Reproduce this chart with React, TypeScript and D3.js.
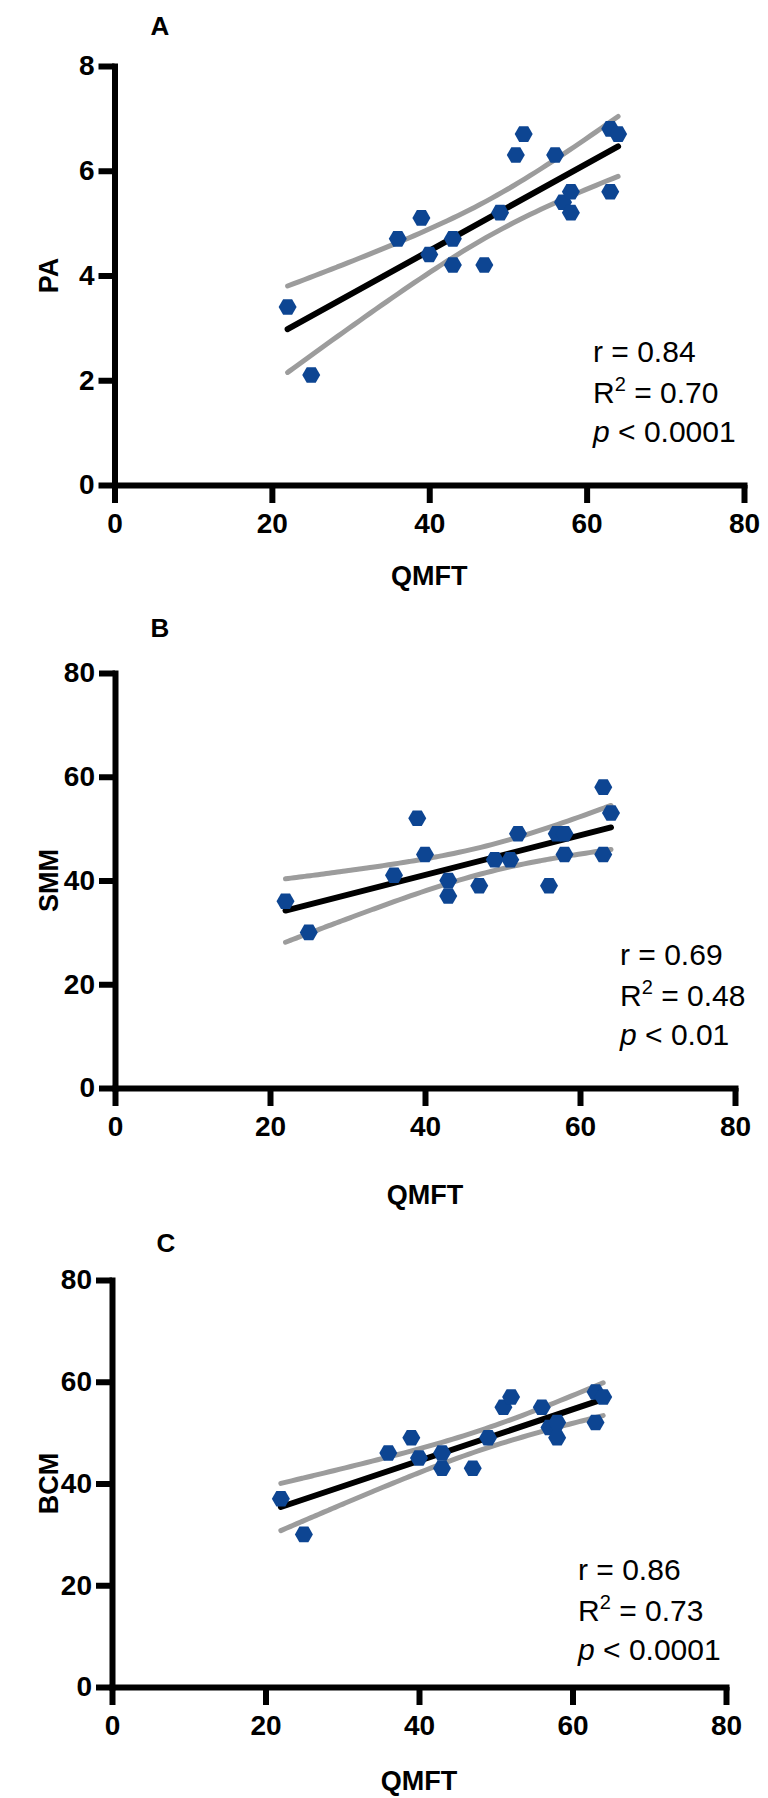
import React, { useEffect, useRef } from "react";
import * as d3 from "d3";

// QMFT score per subject (x), shared by all three panels
const qmft = [22, 25, 36, 39, 40, 43, 43, 47, 49, 51, 52, 56, 57, 58, 58, 63, 63, 64];
// outcomes, same subject order
const pa = [3.4, 2.1, 4.7, 5.1, 4.4, 4.7, 4.2, 4.2, 5.2, 6.3, 6.7, 6.3, 5.4, 5.6, 5.2, 6.8, 5.6, 6.7];
const smm = [36, 30, 41, 52, 45, 40, 37, 39, 44, 44, 49, 39, 49, 49, 45, 58, 45, 53];
const bcm = [37, 30, 46, 49, 45, 46, 43, 43, 49, 55, 57, 55, 51, 52, 49, 58, 52, 57];

const xTicks = [0, 20, 40, 60, 80];
const paTicks = [0, 2, 4, 6, 8];
const massTicks = [0, 20, 40, 60, 80];

const panelLetters = ["A", "B", "C"];
const yTitles = ["PA", "SMM", "BCM"];
const rValues = ["0.84", "0.69", "0.86"];
const r2Values = ["0.70", "0.48", "0.73"];
const pValues = ["0.0001", "0.01", "0.0001"];

const tCrit = 2.12; // t(0.975, df = 16)

interface Layout {
  left: number;
  right: number;
  top: number;
  bottom: number;
  letterX: number;
  letterY: number;
  statsX: number;
  statsY: number;
  titleY: number;
}

const layouts: Layout[] = [
  { left: 114.5, right: 744, top: 66, bottom: 485, letterX: 160, letterY: 35, statsX: 593, statsY: 362, titleY: 585 },
  { left: 115, right: 735, top: 673, bottom: 1088, letterX: 160, letterY: 637, statsX: 620, statsY: 965, titleY: 1204 },
  { left: 112, right: 726, top: 1280, bottom: 1687, letterX: 166, letterY: 1252, statsX: 578, statsY: 1580, titleY: 1790 },
];

const FONT = "'Liberation Sans', Arial, Helvetica, sans-serif";
const BLUE = "#0d4592";
const GREY = "#9c9c9c";

function fit(xs: number[], ys: number[]) {
  const n = xs.length;
  const mx = d3.mean(xs) ?? 0;
  const my = d3.mean(ys) ?? 0;
  const sxx = d3.sum(xs, (x) => (x - mx) ** 2);
  const sxy = d3.sum(xs.map((x, i) => (x - mx) * (ys[i] - my)));
  const slope = sxy / sxx;
  const icpt = my - slope * mx;
  const sse = d3.sum(xs.map((x, i) => (ys[i] - icpt - slope * x) ** 2));
  const s = Math.sqrt(sse / (n - 2));
  return {
    predict: (x: number) => icpt + slope * x,
    half: (x: number) => tCrit * s * Math.sqrt(1 / n + (x - mx) ** 2 / sxx),
  };
}

// flat-topped hexagon
function hexPath(r: number) {
  const pts = d3.range(6).map((i) => {
    const a = (Math.PI / 3) * i;
    return [r * Math.cos(a), r * Math.sin(a)] as [number, number];
  });
  return "M" + pts.map((p) => p.join(",")).join("L") + "Z";
}

const App: React.FC = () => {
  const svgRef = useRef<SVGSVGElement>(null);

  useEffect(() => {
    const svg = d3.select(svgRef.current);
    svg.selectAll("*").remove();

    const series = [pa, smm, bcm];
    const yTickSets = [paTicks, massTicks, massTicks];

    series.forEach((ys, k) => {
      const L = layouts[k];
      const ticks = yTickSets[k];
      const g = svg.append("g");

      const x = d3.scaleLinear().domain([0, 80]).range([L.left, L.right]);
      const y = d3
        .scaleLinear()
        .domain([0, d3.max(ticks) ?? 0])
        .range([L.bottom, L.top]);

      // regression + 95% CI
      const model = fit(qmft, ys);
      const [x0, x1] = d3.extent(qmft) as [number, number];
      const grid = d3.range(61).map((i) => x0 + ((x1 - x0) * i) / 60);
      const line = d3
        .line<number>()
        .x((d) => x(d))
        .curve(d3.curveMonotoneX);

      g.append("path")
        .attr("d", line.y((d) => y(model.predict(d) + model.half(d)))(grid))
        .attr("fill", "none")
        .attr("stroke", GREY)
        .attr("stroke-width", 5)
        .attr("stroke-linecap", "round");
      g.append("path")
        .attr("d", line.y((d) => y(model.predict(d) - model.half(d)))(grid))
        .attr("fill", "none")
        .attr("stroke", GREY)
        .attr("stroke-width", 5)
        .attr("stroke-linecap", "round");
      g.append("path")
        .attr("d", line.y((d) => y(model.predict(d)))([x0, x1]))
        .attr("fill", "none")
        .attr("stroke", "#000")
        .attr("stroke-width", 6)
        .attr("stroke-linecap", "round");

      // points
      const hex = hexPath(9);
      g.selectAll(".pt")
        .data(qmft.map((q, i) => [q, ys[i]]))
        .join("path")
        .attr("class", "pt")
        .attr("d", hex)
        .attr("transform", (d) => `translate(${x(d[0])},${y(d[1])})`)
        .attr("fill", BLUE);

      // axes
      const xAxis = d3
        .axisBottom(x)
        .tickValues(xTicks)
        .tickSize(18)
        .tickSizeOuter(0)
        .tickPadding(10)
        .tickFormat(d3.format("d"));
      const yAxis = d3
        .axisLeft(y)
        .tickValues(ticks)
        .tickSize(16)
        .tickSizeOuter(0)
        .tickPadding(4)
        .tickFormat(d3.format("d"));

      const gx = g
        .append("g")
        .attr("transform", `translate(0,${L.bottom})`)
        .call(xAxis);
      const gy = g
        .append("g")
        .attr("transform", `translate(${L.left},0)`)
        .call(yAxis);

      [gx, gy].forEach((ax) => {
        ax.select(".domain")
          .attr("stroke", "#000")
          .attr("stroke-width", 6)
          .attr("stroke-linecap", "square");
        ax.selectAll(".tick line").attr("stroke", "#000").attr("stroke-width", 6);
        ax.selectAll(".tick text")
          .attr("fill", "#000")
          .attr("font-family", FONT)
          .attr("font-weight", "bold")
          .attr("font-size", 28);
      });

      // titles
      g.append("text")
        .attr("x", (L.left + L.right) / 2)
        .attr("y", L.titleY)
        .attr("text-anchor", "middle")
        .attr("font-family", FONT)
        .attr("font-weight", "bold")
        .attr("font-size", 27)
        .text("QMFT");

      g.append("text")
        .attr("transform", `translate(58,${(L.top + L.bottom) / 2}) rotate(-90)`)
        .attr("text-anchor", "middle")
        .attr("font-family", FONT)
        .attr("font-weight", "bold")
        .attr("font-size", 27)
        .text(yTitles[k]);

      g.append("text")
        .attr("x", L.letterX)
        .attr("y", L.letterY)
        .attr("text-anchor", "middle")
        .attr("font-family", FONT)
        .attr("font-weight", "bold")
        .attr("font-size", 26)
        .text(panelLetters[k]);

      // stats
      const st = g
        .append("g")
        .attr("font-family", FONT)
        .attr("font-size", 30)
        .attr("fill", "#000");
      st.append("text")
        .attr("x", L.statsX)
        .attr("y", L.statsY)
        .text(`r = ${rValues[k]}`);
      const t2 = st.append("text").attr("x", L.statsX).attr("y", L.statsY + 41);
      t2.append("tspan").text("R");
      t2.append("tspan").attr("font-size", 20).attr("dy", -12).text("2");
      t2.append("tspan").attr("dy", 12).text(` = ${r2Values[k]}`);
      const t3 = st.append("text").attr("x", L.statsX).attr("y", L.statsY + 80);
      t3.append("tspan").attr("font-style", "italic").text("p");
      t3.append("tspan").text(` < ${pValues[k]}`);
    });
  }, []);

  return (
    <svg
      ref={svgRef}
      width={768}
      height={1798}
      style={{ position: "absolute", left: 0, top: 0, background: "#fff" }}
    />
  );
};

export default App;
